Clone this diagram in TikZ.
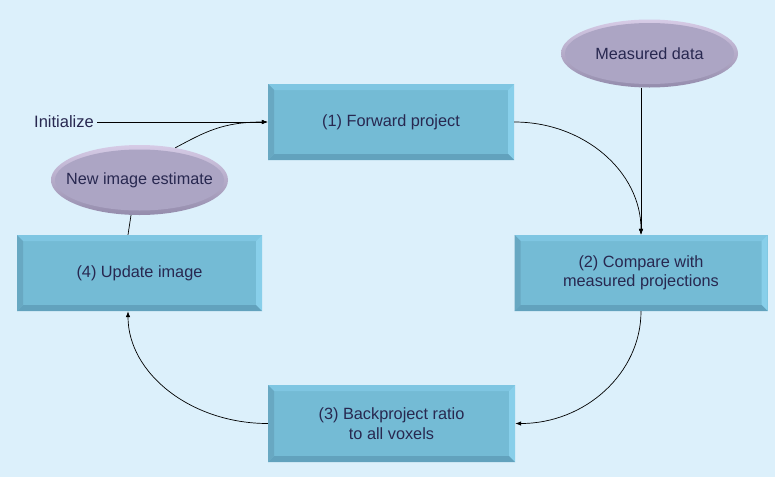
\documentclass[tikz,border=0pt]{standalone}
\usepackage{fontspec}
\setmainfont{Liberation Sans}
\usetikzlibrary{shapes.geometric,calc,arrows.meta}
\definecolor{bg}{HTML}{DCF0FB}
\definecolor{face}{HTML}{74BBD5}
\definecolor{bevtop}{HTML}{7FC6E2}
\definecolor{bevright}{HTML}{88CFEA}
\definecolor{bevbot}{HTML}{62A2BD}
\definecolor{bevleft}{HTML}{68A8C2}
\definecolor{elface}{HTML}{ACA5C4}
\definecolor{eltop}{HTML}{D6CBE6}
\definecolor{elbot}{HTML}{948CAC}
\definecolor{txt}{RGB}{40,40,80}
\tikzset{
  stepbox/.style={rectangle, inner sep=0pt, minimum width=246pt, minimum height=76pt,
    fill=face, text=txt, align=center,
    font=\fontsize{16.3}{19.5}\selectfont,
    path picture={
      \coordinate (NW) at (path picture bounding box.north west);
      \coordinate (NE) at (path picture bounding box.north east);
      \coordinate (SW) at (path picture bounding box.south west);
      \coordinate (SE) at (path picture bounding box.south east);
      \fill[bevtop] (NW) -- (NE) -- ($(NE)+(-6,6)$) -- ($(NW)+(6,6)$) -- cycle;
      \fill[bevright] (NE) -- (SE) -- ($(SE)+(-6,-6)$) -- ($(NE)+(-6,6)$) -- cycle;
      \fill[bevbot] (SE) -- (SW) -- ($(SW)+(6,-6)$) -- ($(SE)+(-6,-6)$) -- cycle;
      \fill[bevleft] (SW) -- (NW) -- ($(NW)+(6,6)$) -- ($(SW)+(6,-6)$) -- cycle;
    }},
  datael/.style={ellipse, inner sep=0pt, minimum width=177pt, minimum height=68pt,
    top color=eltop, bottom color=elbot, text=txt,
    font=\fontsize{16.2}{19.5}\selectfont,
    path picture={
      \fill[elface] (path picture bounding box.center) ellipse [x radius=84.5, y radius=30.5];
    }},
  arr/.style={-{Latex[length=6pt,width=4.5pt]}, line width=0.7pt, draw=black},
  conn/.style={line width=0.7pt, draw=black}
}
\begin{document}
\begin{tikzpicture}[x=1pt,y=-1pt]
\useasboundingbox (0,0) rectangle (775,477);
\fill[bg] (0,0) rectangle (775,477);

\node[stepbox] (b1) at (391,122) {(1) Forward project};
\node[stepbox, minimum width=253pt] (b2) at (641,273) {(2) Compare with\\measured projections};
\node[stepbox, minimum width=247pt, minimum height=77pt] (b3) at (391.5,423.5) {(3) Backproject ratio\\to all voxels};
\node[stepbox, minimum width=245pt] (b4) at (139.5,273) {(4) Update image};

\node[datael] (md) at (649.5,53.5) {\makebox[0pt]{Measured data}};
\node[datael, minimum height=70pt] (ne) at (139.5,180) {\makebox[0pt]{New image estimate}};

\node[text=txt, font=\fontsize{16.5}{19.5}\selectfont, inner sep=3pt] (init) at (64,122) {Initialize};

\draw[arr] (init.east) -- (b1.west);
\draw[arr] (ne.42) .. controls +(30,-16) and +(-45,0) .. (b1.west);
\draw[arr] (b1.east) .. controls +(70,0) and +(0,-63) .. (b2.north);
\draw[arr] (md.south -| b2.north) -- (b2.north);
\draw[arr] (b2.south) .. controls +(0,62) and +(70,0) .. (b3.east);
\draw[arr] (b3.west) .. controls +(-77,0) and +(0,62) .. ([xshift=-11.5pt]b4.south);
\draw[conn] ([xshift=-11.5pt]b4.north) -- ([xshift=-8.5pt]ne.south);
\end{tikzpicture}
\end{document}
